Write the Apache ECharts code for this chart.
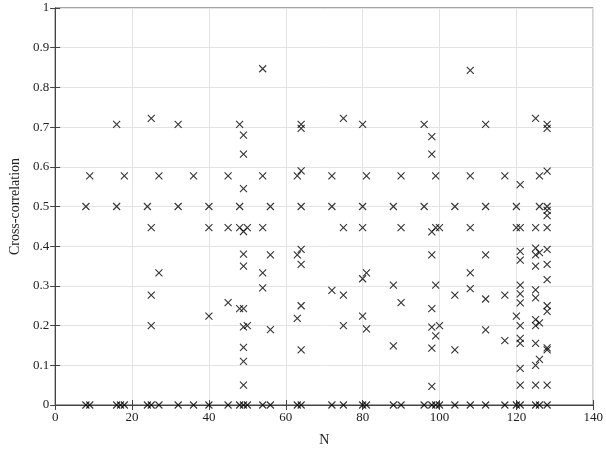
<!DOCTYPE html>
<html><head><meta charset="utf-8">
<script src="https://cdn.jsdelivr.net/npm/echarts@6/dist/echarts.min.js"></script>
<style>html,body{margin:0;padding:0;background:#fff}#c{width:606px;height:452px}</style>
</head><body><div id="c"></div>
<script>
const xTicks = [0,20,40,60,80,100,120,140];
const yTicks = [0,0.1,0.2,0.3,0.4,0.5,0.6,0.7,0.8,0.9,1];
const colN = [8,9,16,17,18,24,25,27,32,36,40,45,48,49,50,54,56,63,64,72,75,80,81,88,90,96,98,99,100,104,108,112,117,120,121,125,126,128];
const colVals = [
 [0.5,0],
 [0.577,0],
 [0.707,0.5,0],
 [0],
 [0.577,0],
 [0.5,0],
 [0.722,0.447,0.277,0.2,0],
 [0.577,0.333,0],
 [0.707,0.5,0],
 [0.577,0],
 [0.5,0.447,0.224,0],
 [0.577,0.447,0.258,0],
 [0.707,0.5,0.447,0.243,0],
 [0.68,0.632,0.545,0.437,0.38,0.35,0.243,0.197,0.145,0.11,0.05,0],
 [0.447,0.2,0],
 [0.847,0.577,0.447,0.333,0.295,0],
 [0.5,0.378,0.19,0],
 [0.577,0.378,0.218,0],
 [0.707,0.697,0.59,0.5,0.392,0.354,0.25,0.139,0],
 [0.577,0.5,0.289,0],
 [0.722,0.447,0.277,0.2,0],
 [0.707,0.5,0.447,0.318,0.224,0],
 [0.577,0.333,0.192,0],
 [0.5,0.302,0.149,0],
 [0.577,0.447,0.258,0],
 [0.707,0.5,0],
 [0.676,0.632,0.436,0.378,0.243,0.196,0.143,0.047,0],
 [0.577,0.447,0.302,0.174,0],
 [0.447,0.2,0],
 [0.5,0.277,0.139,0],
 [0.843,0.577,0.447,0.333,0.293,0],
 [0.707,0.5,0.378,0.267,0.189,0],
 [0.577,0.277,0.162,0],
 [0.5,0.447,0.224,0],
 [0.555,0.447,0.387,0.365,0.302,0.28,0.257,0.2,0.168,0.155,0.092,0.05,0],
 [0.722,0.447,0.395,0.378,0.35,0.29,0.27,0.215,0.2,0.155,0.1,0.05,0],
 [0.577,0.5,0.384,0.207,0.115,0],
 [0.707,0.697,0.589,0.5,0.49,0.477,0.447,0.392,0.354,0.316,0.25,0.236,0.144,0.139,0.05,0]
];
const pts = [];
colN.forEach((n,i)=>colVals[i].forEach(v=>pts.push([n,v])));
const font = 'Liberation Serif';
const lab = {fontFamily:font,fontSize:13,color:'#222',margin:6};
const tick = {inside:true,length:5,lineStyle:{color:'#444'}};
const chart = echarts.init(document.getElementById('c'));
chart.setOption({
  animation:false,
  grid:{left:50,right:12,top:8,bottom:45,show:true,borderColor:'#444',borderWidth:1},
  xAxis:[{type:'value',min:0,max:140,interval:20,name:'N',nameLocation:'middle',nameGap:28,
    nameTextStyle:{fontFamily:font,fontSize:14,color:'#222'},
    axisLine:{lineStyle:{color:'#444'}},axisTick:tick,axisLabel:lab,
    splitLine:{lineStyle:{color:'#e3e3e3'}}},
    {type:'value',position:'top',min:0,max:140,interval:20,axisLine:{lineStyle:{color:'#444'}},axisTick:tick,axisLabel:{show:false},splitLine:{show:false}}],
  yAxis:[{type:'value',min:0,max:1,interval:0.1,name:'Cross-correlation',nameLocation:'middle',nameGap:32,
    nameTextStyle:{fontFamily:font,fontSize:14,color:'#222'},
    axisLine:{lineStyle:{color:'#444'}},axisTick:tick,
    axisLabel:Object.assign({},lab,{formatter:v=>String(+v.toFixed(1))}),
    splitLine:{lineStyle:{color:'#e3e3e3'}}},
    {type:'value',position:'right',min:0,max:1,interval:0.1,axisLine:{lineStyle:{color:'#444'}},axisTick:tick,axisLabel:{show:false},splitLine:{show:false}}],
  series:[{type:'scatter',data:pts,symbol:'path://M0,0L10,10M10,0L0,10',symbolSize:7,
    itemStyle:{color:'transparent',borderColor:'#000',borderWidth:1.1}}]
});
</script></body></html>
